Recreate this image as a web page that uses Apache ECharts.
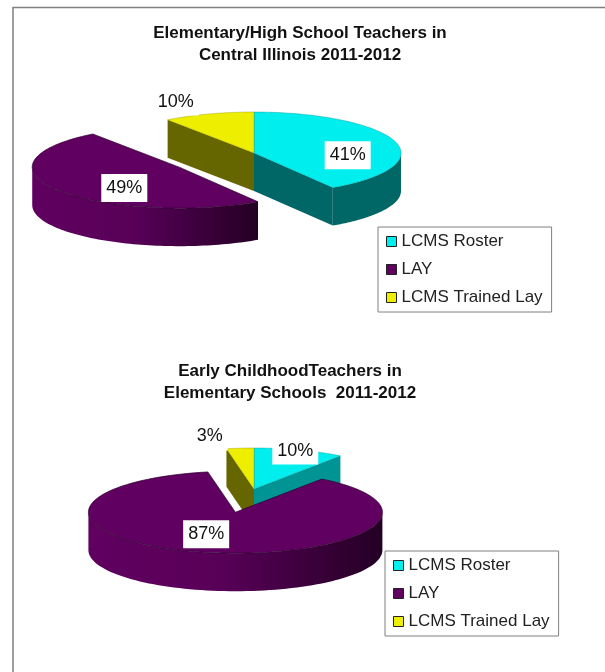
<!DOCTYPE html>
<html>
<head>
<meta charset="utf-8">
<style>html,body{margin:0;padding:0;background:#fff}#c{width:605px;height:672px}</style>
<script src="https://cdn.jsdelivr.net/npm/echarts@6/dist/echarts.min.js"></script>
</head>
<body>
<div id="c"></div>
<script>
const categories = ['LCMS Roster', 'LAY', 'LCMS Trained Lay'];
const upperValues = [41, 49, 10];
const lowerValues = [10, 87, 3];
const upperTitle = 'Elementary/High School Teachers in\nCentral Illinois 2011-2012';
const lowerTitle = 'Early ChildhoodTeachers in\nElementary Schools  2011-2012';

const FONT = '"Liberation Sans", Arial, sans-serif';
const topColors = ['#00eeee', '#600060', '#eeee00'];
const rgb = {0: [0, 238, 238], 1: [100, 0, 100], 2: [238, 238, 0]};
function shade(i, f) { return 'rgb(' + rgb[i].map(function (c) { return Math.round(c * f); }).join(',') + ')'; }

// Layout of each pie: centre, radii, thickness, and how far each slice is pulled out.
const pies = [
  {values: upperValues, cx: 254, cy: 153, rx: 147, ry: 41, depth: 38,
   explode: [0, 0.615, 0], nudge: [[9, 9], [18, 7], [-51, -28]]},
  {values: lowerValues, cx: 254, cy: 489, rx: 147, ry: 41, depth: 38,
   explode: [0, 0.58, 0], nudge: [[14, -15], [-10, -2], [-36, -28]]}
];

function renderSlice(pie, idx) {
  return function (params, api) {
    const val = api.value(0);
    const total = pie.values.reduce(function (a, b) { return a + b; }, 0);
    const before = pie.values.slice(0, idx).reduce(function (a, b) { return a + b; }, 0);
    const t1 = before / total * 2 * Math.PI;
    const t2 = (before + val) / total * 2 * Math.PI;
    const mid = (t1 + t2) / 2;
    const d = pie.explode[idx];
    const cx = pie.cx + d * pie.rx * Math.sin(mid);
    const cy = pie.cy - d * pie.ry * Math.cos(mid);
    function pt(t, f, dz) {
      return [cx + f * pie.rx * Math.sin(t), cy - f * pie.ry * Math.cos(t) + (dz || 0)];
    }
    const children = [];
    const wall = function (t, f) {
      children.push({type: 'polygon', silent: true, shape: {points: [
        pt(t, 0), pt(t, 1), pt(t, 1, pie.depth), pt(t, 0, pie.depth)
      ]}, style: {fill: shade(idx, f)}});
    };
    if (Math.sin(t1) < -1e-6) wall(t1, 0.43);
    if (Math.sin(t2) > 1e-6) wall(t2, t2 < Math.PI / 2 ? 0.62 : 0.43);

    // outer rim: the part of the arc facing the viewer
    const a = Math.max(t1, Math.PI / 2), b = Math.min(t2, 1.5 * Math.PI);
    if (b > a) {
      const up = [], down = [];
      for (let k = 0; k <= 80; k++) {
        const t = a + (b - a) * k / 80;
        up.push(pt(t, 1));
        down.unshift(pt(t, 1, pie.depth));
      }
      const fill = idx === 1
        ? new echarts.graphic.LinearGradient(0, 0, 1, 0, [
            {offset: 0, color: shade(idx, 0.96)},
            {offset: 0.45, color: shade(idx, 0.88)},
            {offset: 1, color: shade(idx, 0.36)}])
        : shade(idx, 0.43);
      children.push({type: 'polygon', silent: true, shape: {points: up.concat(down)}, style: {fill: fill}});
    }

    // top face
    const top = [pt(0, 0)];
    for (let k = 0; k <= 120; k++) top.push(pt(t1 + (t2 - t1) * k / 120, 1));
    children.push({type: 'polygon', silent: true, shape: {points: top},
      style: {fill: topColors[idx], stroke: idx === 1 ? '#2c002c' : shade(idx, 0.6), lineWidth: idx === 1 ? 0.7 : 0.4}});

    // data label
    const p = pt(mid, 0.6);
    children.push({type: 'text', silent: true, z2: 50, style: {
      text: val + '%', x: p[0] + pie.nudge[idx][0], y: p[1] + pie.nudge[idx][1],
      align: 'center', verticalAlign: 'middle',
      font: '18px ' + FONT, fill: '#111', backgroundColor: '#fff', padding: [5, 5, 5, 5]
    }});
    return {type: 'group', children: children};
  };
}

const drawOrder = [0, 2, 1];
const series = [];
pies.forEach(function (pie) {
  drawOrder.forEach(function (i) {
    series.push({
      type: 'custom', name: categories[i], coordinateSystem: 'none',
      itemStyle: {color: topColors[i]}, silent: true, animation: false,
      data: [[pie.values[i]]], renderItem: renderSlice(pie, i)
    });
  });
});

function makeTitle(text, x, y) {
  return {text: text, left: x, top: y, textAlign: 'center', padding: 0,
    textStyle: {fontFamily: FONT, fontSize: 17, fontWeight: 'bold', lineHeight: 22, color: '#111'}};
}
function makeLegend(x, y) {
  return {data: categories, orient: 'vertical', left: x, top: y, selectedMode: false,
    backgroundColor: '#fff', borderColor: '#808080', borderWidth: 1, borderRadius: 0,
    padding: [6, 9, 6, 8], itemGap: 11, itemWidth: 10, itemHeight: 10, icon: 'rect',
    itemStyle: {borderColor: '#222', borderWidth: 1},
    textStyle: {fontFamily: FONT, fontSize: 17, color: '#222', padding: 0}};
}

const chart = echarts.init(document.getElementById('c'), null, {renderer: 'canvas'});
chart.setOption({
  backgroundColor: '#fff', animation: false,
  title: [makeTitle(upperTitle, 300, 22), makeTitle(lowerTitle, 290, 360)],
  legend: [makeLegend(378, 227), makeLegend(385, 551)],
  graphic: [{type: 'polyline', silent: true, shape: {points: [[13, 672], [13, 7.5], [605, 7.5]]},
    style: {fill: 'none', stroke: '#808080', lineWidth: 1.5}}],
  series: series
});
</script>
</body>
</html>
